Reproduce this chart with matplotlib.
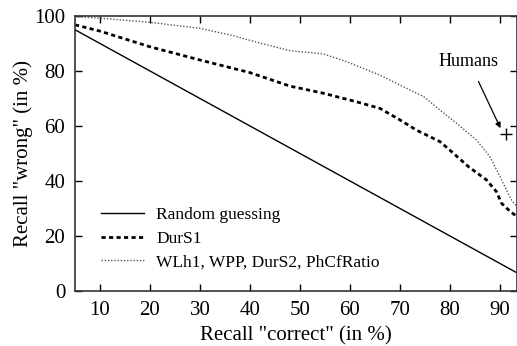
import matplotlib
matplotlib.use("Agg")
import matplotlib.pyplot as plt
import numpy as np

plt.rcParams['font.family'] = ['Liberation Serif', 'DejaVu Serif']

# Data
random_x = [5, 93.4]
random_y = [95, 6.6]

durs1_x = [5, 10, 20, 30, 40, 48, 54.7, 61.3, 66, 70, 73.3, 76, 78, 80.3, 83.7, 87.3, 89.3, 90.3, 91.7, 93.4]
durs1_y = [96.8, 94.5, 88.8, 84, 79.4, 74.5, 71.9, 68.8, 66.4, 62.2, 58.5, 56.1, 54.3, 50.7, 45.2, 40.4, 36.1, 31.9, 29.5, 27]

wlh_x = [5, 10, 20, 30, 36.3, 42.3, 48, 54.7, 59.3, 66, 70, 74.7, 78, 81.3, 85.3, 88, 90, 91.3, 92.3, 93.4]
wlh_y = [99.8, 99.2, 97.7, 95.5, 93, 90, 87.4, 86.2, 83.4, 78.5, 74.9, 70.7, 65.8, 61, 54.9, 48.8, 41.6, 36.7, 33.1, 30.7]

humans_x = [91.1]
humans_y = [57]

labels = ["Random guessing", "DurS1", "WLh1, WPP, DurS2, PhCfRatio"]

fig = plt.figure(figsize=(5.17, 3.46), dpi=100)
ax = fig.add_axes([75/517, 1-291/346, 1-75/517, (291-16)/346])

ax.plot(random_x, random_y, color='black', lw=1.0, label=labels[0])
ax.plot(durs1_x, durs1_y, color='black', lw=2.0, linestyle=(0, (1.5, 1.2)), label=labels[1])
ax.plot(wlh_x, wlh_y, color='#555555', lw=1.0, linestyle=(0, (1, 1.3)), label=labels[2])
ax.plot(humans_x, humans_y, marker='+', color='black', ms=9, mew=1.0, linestyle='none')
ax.annotate("Humans", xy=(90.1, 59.2), xytext=(83.8, 83.5), ha='center', va='center',
            fontsize=13,
            arrowprops=dict(arrowstyle='-|>', color='black', lw=0.9, shrinkA=7, shrinkB=0,
                            mutation_scale=8))

ax.set_xlim(5, 93.4)
ax.set_ylim(0, 100)
ax.set_xticks([10, 20, 30, 40, 50, 60, 70, 80, 90])
ax.set_yticks([0, 20, 40, 60, 80, 100])
ax.tick_params(direction='in', length=5, width=1, labelsize=15, top=True, right=True, pad=7)
for s in ax.spines.values():
    s.set_linewidth(1.2)
    s.set_color('#333333')

ax.set_xlabel('Recall "correct" (in %)', fontsize=15, labelpad=5)
ax.set_ylabel('Recall "wrong" (in %)', fontsize=15, labelpad=1)

leg = ax.legend(loc='lower left', bbox_to_anchor=(0.059, 0.075), frameon=False, fontsize=12.5,
                handlelength=2.5, handletextpad=0.69, labelspacing=0.44,
                borderpad=0, borderaxespad=0)

fig.savefig("out.png", dpi=100)
